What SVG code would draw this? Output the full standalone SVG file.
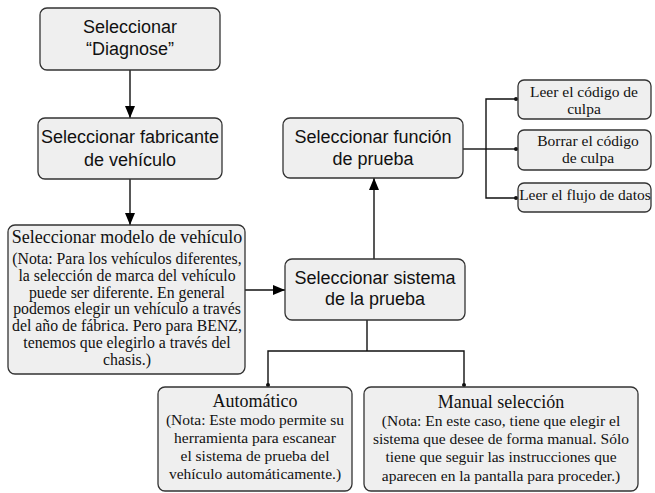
<svg xmlns="http://www.w3.org/2000/svg" width="655" height="493" viewBox="0 0 655 493">
<defs>
<marker id="arr" viewBox="0 0 12 10" refX="12" refY="5" markerWidth="12" markerHeight="10" markerUnits="userSpaceOnUse" orient="auto">
<path d="M0,0 L12,5 L0,10 Z" fill="#000"/>
</marker>
</defs>
<style>
.box{fill:#efefef;stroke:#333;stroke-width:1.3}
.sans{font-family:"Liberation Sans",Arial,sans-serif;font-size:18px;fill:#111;text-anchor:middle}
.serif{font-family:"Liberation Serif","Times New Roman",serif;fill:#111;text-anchor:middle}
.t18{font-size:18px}
.t16{font-size:15.8px}
.t15{font-size:15.5px}
.s15{font-size:15.5px}
.ln{fill:none;stroke:#111;stroke-width:1.4}
.dot{fill:#111}
</style>
<g id="connectors">
<line class="ln" x1="130" y1="70" x2="130" y2="118" marker-end="url(#arr)"/>
<line class="ln" x1="130" y1="179" x2="130" y2="225" marker-end="url(#arr)"/>
<line class="ln" x1="245" y1="290" x2="285" y2="290" marker-end="url(#arr)"/>
<line class="ln" x1="374" y1="259" x2="374" y2="178" marker-end="url(#arr)"/>
<polyline class="ln" points="463,149 486,149"/>
<polyline class="ln" points="515,99 486,99 486,198 515,198"/>
<line class="ln" x1="486" y1="149" x2="515" y2="149"/>
<circle class="dot" cx="516" cy="99" r="2"/>
<circle class="dot" cx="516" cy="149" r="2"/>
<circle class="dot" cx="516" cy="198" r="2"/>
<polyline class="ln" points="367,320 367,351"/>
<polyline class="ln" points="268,385 268,351 464,351 464,385"/>
<circle class="dot" cx="268" cy="385" r="2"/>
<circle class="dot" cx="464" cy="385" r="2"/>
</g>
<g id="n1">
<rect class="box" x="40" y="8" width="180" height="62" rx="7"/>
<text class="sans" x="130" y="33">Seleccionar</text>
<text class="sans" x="130" y="55">“Diagnose”</text>
</g>
<g id="n2">
<rect class="box" x="38" y="118" width="184" height="61" rx="7"/>
<text class="sans" x="130" y="143">Seleccionar fabricante</text>
<text class="sans" x="130" y="166">de vehículo</text>
</g>
<g id="n3">
<rect class="box" x="8" y="225" width="237" height="149" rx="7"/>
<text class="serif t18" x="127" y="243">Seleccionar modelo de vehículo</text>
<text class="serif t16" x="127" y="264">(Nota: Para los vehículos diferentes,</text>
<text class="serif t16" x="127" y="281">la selección de marca del vehículo</text>
<text class="serif t16" x="127" y="298">puede ser diferente. En general</text>
<text class="serif t16" x="127" y="314">podemos elegir un vehículo a través</text>
<text class="serif t16" x="127" y="331">del año de fábrica. Pero para BENZ,</text>
<text class="serif t16" x="127" y="348">tenemos que elegirlo a través del</text>
<text class="serif t16" x="127" y="365">chasis.)</text>
</g>
<g id="n4">
<rect class="box" x="285" y="259" width="180" height="61" rx="7"/>
<text class="sans" x="375" y="284">Seleccionar sistema</text>
<text class="sans" x="375" y="305">de la prueba</text>
</g>
<g id="n5">
<rect class="box" x="283" y="118" width="180" height="60" rx="7"/>
<text class="sans" x="373" y="143">Seleccionar función</text>
<text class="sans" x="373" y="165">de prueba</text>
</g>
<g id="n6">
<rect class="box" x="518" y="80" width="133" height="39" rx="6"/>
<text class="serif s15" x="584" y="97">Leer el código de</text>
<text class="serif s15" x="584" y="114">culpa</text>
</g>
<g id="n7">
<rect class="box" x="518" y="130" width="133" height="40" rx="6"/>
<text class="serif s15" x="588" y="146">Borrar el código</text>
<text class="serif s15" x="588" y="163">de culpa</text>
</g>
<g id="n8">
<rect class="box" x="518" y="183" width="133" height="29" rx="6"/>
<text class="serif s15" x="585" y="200">Leer el flujo de datos</text>
</g>
<g id="n9">
<rect class="box" x="158" y="387" width="194" height="104" rx="7"/>
<text class="serif t18" x="255" y="407">Automático</text>
<text class="serif t15" x="255" y="425">(Nota: Este modo permite su</text>
<text class="serif t15" x="255" y="443">herramienta para escanear</text>
<text class="serif t15" x="255" y="461">el sistema de prueba del</text>
<text class="serif t15" x="255" y="479">vehículo automáticamente.)</text>
</g>
<g id="n10">
<rect class="box" x="364" y="387" width="274" height="104" rx="7"/>
<text class="serif t18" x="501" y="408">Manual selección</text>
<text class="serif t15" x="501" y="426">(Nota: En este caso, tiene que elegir el</text>
<text class="serif t15" x="501" y="444">sistema que desee de forma manual. Sólo</text>
<text class="serif t15" x="501" y="462">tiene que seguir las instrucciones que</text>
<text class="serif t15" x="501" y="481">aparecen en la pantalla para proceder.)</text>
</g>
</svg>
